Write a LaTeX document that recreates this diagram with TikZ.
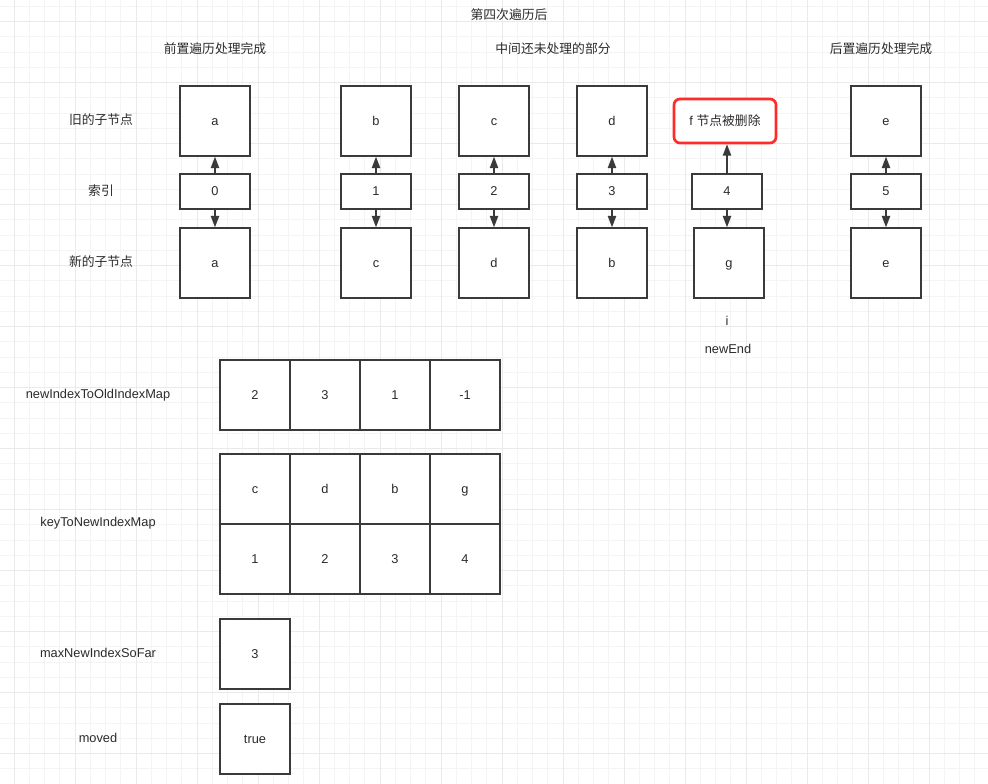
\documentclass[tikz,border=0pt]{standalone}
\usepackage{fontspec}
\setmainfont{Liberation Sans}
\newfontfamily\cjk{Noto Sans CJK SC}
\usetikzlibrary{arrows.meta}
\definecolor{linec}{HTML}{3A3A3A}
\definecolor{txtc}{HTML}{2B2B2B}
\definecolor{gminor}{HTML}{F4F4F4}
\definecolor{gmajor}{HTML}{EAEAEA}
\definecolor{redc}{HTML}{FF2B2B}
\tikzset{
  every node/.style={font=\fontsize{9.6pt}{11pt}\selectfont, text=txtc, inner sep=0pt, text height=8.6pt, text depth=2pt},
  cell/.style={draw=linec, line width=1.1pt, minimum width=52.5pt, minimum height=52.5pt, fill=white},
  idxbox/.style={draw=linec, line width=1.1pt, minimum width=52.5pt, minimum height=26.25pt, fill=white},
  redbox/.style={draw=redc, line width=2pt, rounded corners=4.5pt, minimum width=76.5pt, minimum height=33pt, fill=white},
  cn/.style={font=\cjk\fontsize{9.6pt}{11pt}\selectfont},
  conn/.style={draw=linec, line width=1.1pt, -{Triangle[length=8.5pt,width=6.2pt]}},
  gridminor/.style={draw=gminor, line width=0.75pt},
  gridmajor/.style={draw=gmajor, line width=0.75pt}
}
\begin{document}
\begin{tikzpicture}[x=0.75pt,y=-0.75pt]
\useasboundingbox (0,0) rectangle (988,784);
\fill[white] (0,0) rectangle (988,784);
% grid
\foreach \k in {1,...,65} \draw[gridminor] ({-1.25+15.25*\k},0) -- ({-1.25+15.25*\k},784);
\foreach \k in {0,...,51} \draw[gridminor] (0,{6.45+15.25*\k}) -- (988,{6.45+15.25*\k});
\foreach \m in {0,...,15} \draw[gridmajor] ({14+61*\m},0) -- ({14+61*\m},784);
\foreach \m in {0,...,12} \draw[gridmajor] (0,{21.7+61*\m}) -- (988,{21.7+61*\m});

% titles
\node[cn] (title) at (509,15) {第四次遍历后};
\node[cn] (pre) at (215,49) {前置遍历处理完成};
\node[cn] (mid) at (553,49) {中间还未处理的部分};
\node[cn] (post) at (881,49) {后置遍历处理完成};

% row labels
\node[cn] (lold) at (101,120) {旧的子节点};
\node[cn] (lidx) at (101,191) {索引};
\node[cn] (lnew) at (101,262) {新的子节点};

% old nodes
\node[cell] (o1) at (215,121) {a};
\node[cell] (o2) at (376,121) {b};
\node[cell] (o3) at (494,121) {c};
\node[cell] (o4) at (612,121) {d};
\node[redbox] (o5) at (725,121) {f {\cjk 节点被删除}};
\node[cell] (o6) at (886,121) {e};

% index
\node[idxbox] (i1) at (215,191.5) {0};
\node[idxbox] (i2) at (376,191.5) {1};
\node[idxbox] (i3) at (494,191.5) {2};
\node[idxbox] (i4) at (612,191.5) {3};
\node[idxbox] (i5) at (727,191.5) {4};
\node[idxbox] (i6) at (886,191.5) {5};

% new nodes
\node[cell] (n1) at (215,263) {a};
\node[cell] (n2) at (376,263) {c};
\node[cell] (n3) at (494,263) {d};
\node[cell] (n4) at (612,263) {b};
\node[cell] (n5) at (729,263) {g};
\node[cell] (n6) at (886,263) {e};

% connectors
\foreach \j in {1,2,3,4,6} {
  \draw[conn] (i\j.north) -- (o\j.south);
  \draw[conn] (i\j.south) -- (n\j.north);
}
\draw[conn] (i5.north) -- (i5.north |- o5.south);
\draw[conn] (i5.south) -- (i5.south |- n5.north);

\node (ilab) at (727,321) {i};
\node (newend) at (728,349) {newEnd};

% newIndexToOldIndexMap
\node (lmap) at (98,394) {newIndexToOldIndexMap};
\node[cell] (m1) at (255,395) {2};
\node[cell] (m2) at (325,395) {3};
\node[cell] (m3) at (395,395) {1};
\node[cell] (m4) at (465,395) {-1};

% keyToNewIndexMap
\node (lkey) at (98,522) {keyToNewIndexMap};
\node[cell] (k1) at (255,489) {c};
\node[cell] (k2) at (325,489) {d};
\node[cell] (k3) at (395,489) {b};
\node[cell] (k4) at (465,489) {g};
\node[cell] (v1) at (255,559) {1};
\node[cell] (v2) at (325,559) {2};
\node[cell] (v3) at (395,559) {3};
\node[cell] (v4) at (465,559) {4};

% maxNewIndexSoFar
\node (lmax) at (98,653) {maxNewIndexSoFar};
\node[cell] (mx) at (255,654) {3};

% moved
\node (lmoved) at (98,738) {moved};
\node[cell] (mv) at (255,739) {true};
\end{tikzpicture}
\end{document}
